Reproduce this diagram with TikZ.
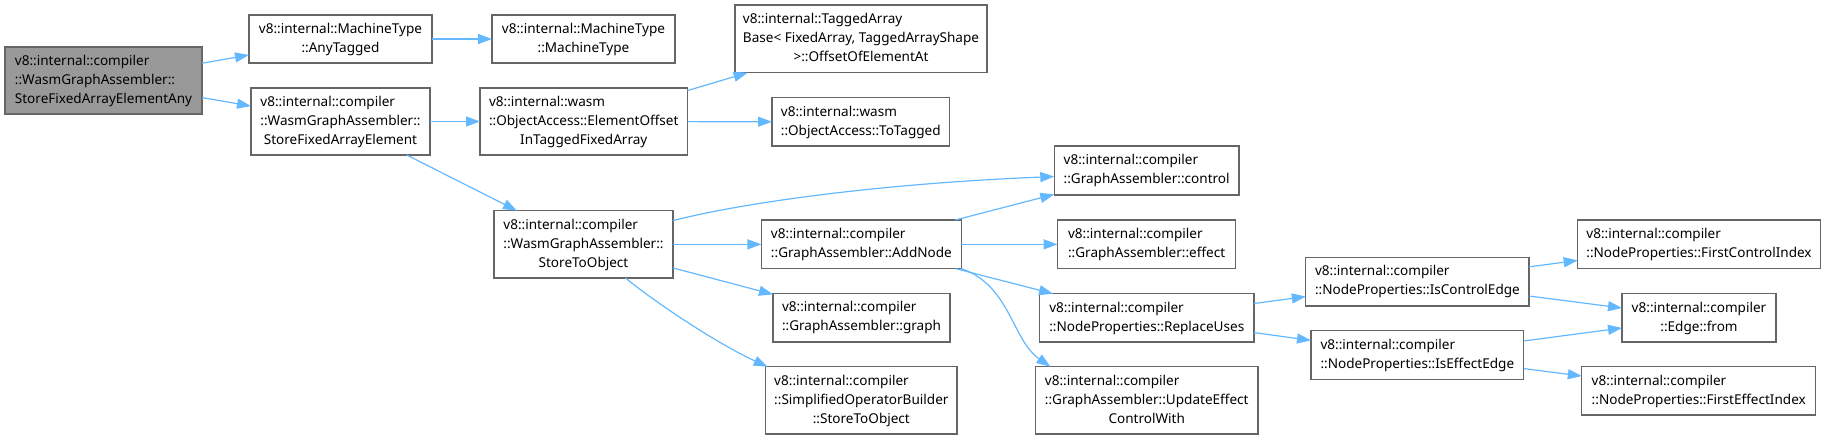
\documentclass[tikz,border=0pt]{standalone}
\usepackage{fontspec}
\setmainfont{Noto Sans}
\usetikzlibrary{arrows.meta,calc}
\definecolor{edgeblue}{HTML}{63B8FF}
\definecolor{boxline}{HTML}{666666}
\definecolor{rootfill}{HTML}{999999}
\newcommand\tthree[3]{\begin{tabular}{@{}l@{}}#1\\#2\\\multicolumn{1}{@{}c@{}}{#3}\end{tabular}}
\newcommand\ttwo[2]{\begin{tabular}{@{}l@{}}#1\\\multicolumn{1}{@{}c@{}}{#2}\end{tabular}}
\begin{document}
\begin{tikzpicture}[x=1pt,y=-1pt,
  box/.style={draw=boxline, line width=1.2pt, fill=white, inner sep=0pt, outer sep=0pt,
    font=\fontsize{13.55}{19}\selectfont},
  rootbox/.style={box, fill=rootfill},
  edge/.style={draw=edgeblue, line width=1.2pt, -{Triangle[length=14pt,width=10pt]}}]
\useasboundingbox (0,0) rectangle (1826,440);
\tikzset{wh/.style 2 args={minimum width=#1pt, minimum height=#2pt}}
% nodes
\node[rootbox, wh={197}{67}] (root) at (103.5,80.5) {\tthree{v8::internal::compiler}{::WasmGraphAssembler::}{StoreFixedArrayElementAny}};
\node[box, wh={183}{48}] (anyt) at (340.5,39) {\ttwo{v8::internal::MachineType}{::AnyTagged}};
\node[box, wh={183}{48}] (mtype) at (583.5,39) {\ttwo{v8::internal::MachineType}{::MachineType}};
\node[box, wh={179}{67}] (sfae) at (340.5,121.5) {\tthree{v8::internal::compiler}{::WasmGraphAssembler::}{StoreFixedArrayElement}};
\node[box, wh={207.5}{67}] (eoff) at (583.75,121.5) {\tthree{v8::internal::wasm}{::ObjectAccess::ElementOffset}{InTaggedFixedArray}};
\node[box, wh={252}{67.7}] (taba) at (861,38.85) {\tthree{v8::internal::TaggedArray}{Base< FixedArray, TaggedArrayShape}{>::OffsetOfElementAt}};
\node[box, wh={177.5}{48.3}] (totag) at (860.75,121.85) {\ttwo{v8::internal::wasm}{::ObjectAccess::ToTagged}};
\node[box, wh={179}{67.3}] (sto) at (583.5,244.35) {\tthree{v8::internal::compiler}{::WasmGraphAssembler::}{StoreToObject}};
\node[box, wh={200}{48.7}] (addn) at (861.4,244.35) {\ttwo{v8::internal::compiler}{::GraphAssembler::AddNode}};
\node[box, wh={177}{48.7}] (graph) at (861.5,317.65) {\ttwo{v8::internal::compiler}{::GraphAssembler::graph}};
\node[box, wh={191.3}{67.3}] (sob) at (861.35,400.35) {\tthree{v8::internal::compiler}{::SimplifiedOperatorBuilder}{::StoreToObject}};
\node[box, wh={184.7}{49}] (control) at (1146.65,170.5) {\ttwo{v8::internal::compiler}{::GraphAssembler::control}};
\node[box, wh={178}{48.7}] (effect) at (1146.6,244.35) {\ttwo{v8::internal::compiler}{::GraphAssembler::effect}};
\node[box, wh={214.5}{48.3}] (repl) at (1146.75,317.85) {\ttwo{v8::internal::compiler}{::NodeProperties::ReplaceUses}};
\node[box, wh={222.6}{67.3}] (uec) at (1146.7,400.35) {\tthree{v8::internal::compiler}{::GraphAssembler::UpdateEffect}{ControlWith}};
\node[box, wh={223.2}{48.7}] (ice) at (1417.4,281.65) {\ttwo{v8::internal::compiler}{::NodeProperties::IsControlEdge}};
\node[box, wh={212.7}{48.6}] (iee) at (1417.35,355) {\ttwo{v8::internal::compiler}{::NodeProperties::IsEffectEdge}};
\node[box, wh={242.6}{48.7}] (fci) at (1699,244.35) {\ttwo{v8::internal::compiler}{::NodeProperties::FirstControlIndex}};
\node[box, wh={154}{48.3}] (efrom) at (1699,317.85) {\ttwo{v8::internal::compiler}{::Edge::from}};
\node[box, wh={233.9}{48.3}] (fei) at (1698.75,390.85) {\ttwo{v8::internal::compiler}{::NodeProperties::FirstEffectIndex}};
% edges
\draw[edge] (root) -- (anyt);
\draw[edge] (root) -- (sfae);
\draw[edge] (anyt) -- (mtype);
\draw[edge] (sfae) -- (eoff);
\draw[edge] (sfae) -- (sto);
\draw[edge] (eoff) -- (taba);
\draw[edge] (eoff) -- (totag);
\draw[edge] ($(sto.north east)+(0,10)$) .. controls (720,208) and (850,185) .. ($(control.west)+(0,6)$);
\draw[edge] (sto) -- (addn);
\draw[edge] (sto) -- (graph);
\draw[edge] ($(sto.south)+(42,0)$) .. controls (660,306) and (720,345) .. ($(sob.north west)+(2,0)$);
\draw[edge] (addn) -- (control);
\draw[edge] (addn) -- (effect);
\draw[edge] (addn) -- (repl);
\draw[edge] (addn.south east) .. controls (1010,285) and (1012,340) .. ($(uec.north west)+(15,0)$);
\draw[edge] (repl) -- (ice);
\draw[edge] (repl) -- (iee);
\draw[edge] (ice) -- (fci);
\draw[edge] (ice) -- (efrom);
\draw[edge] (iee) -- (efrom);
\draw[edge] (iee) -- (fei);
\end{tikzpicture}
\end{document}
